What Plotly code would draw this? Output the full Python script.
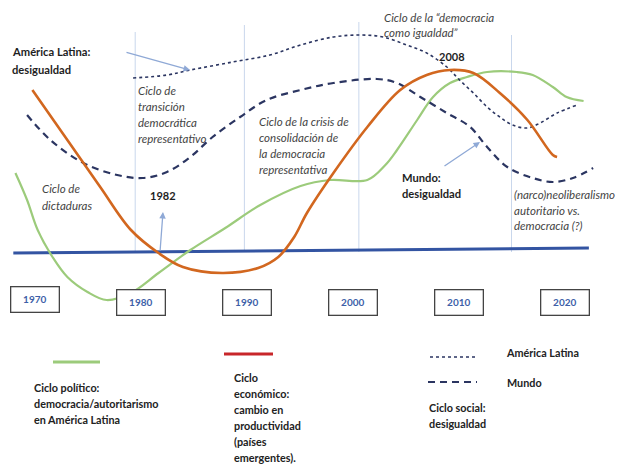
import plotly.graph_objects as go

# --- datos (años vs. nivel relativo, línea base = 0)
pol_years = [1968.2, 1969.3, 1970.3, 1971.7, 1973.1, 1975.0, 1976.8, 1979.1, 1981.7, 1984.7, 1988.0,
             1991.3, 1995.1, 1997.9, 2001.4, 2003.1, 2004.2, 2006.1, 2007.6, 2009.2, 2010.8, 2012.7,
             2015.5, 2017.0, 2018.9, 2020.2, 2021.8]
pol_vals = [79, 52, 22, -5, -25, -40, -48, -41, -21, 2, 24, 47, 66, 72, 72, 87, 102, 132, 155, 169,
            175, 180, 180, 177, 165, 155, 151]

eco_years = [1969.8, 1973.1, 1976.2, 1979.1, 1981.7, 1984.0, 1987.7, 1991.1, 1993.0, 1994.5, 1995.7,
             1998.2, 2001.4, 2004.5, 2007.0, 2009.2, 2011.4, 2013.9, 2016.5, 2018.9, 2019.3]
eco_vals = [162, 112, 65, 22, -1, -15, -21, -16, -5, 15, 39, 79, 125, 162, 177, 182, 179, 159, 132, 97, 95]

mundo_years = [1969.3, 1971.5, 1974.6, 1977.8, 1980.2, 1982.5, 1984.7, 1986.8, 1989.4, 1991.9, 1995.1,
               1998.2, 2002.3, 2004.2, 2006.4, 2008.9, 2011.1, 2012.7, 2014.6, 2017.0, 2018.9, 2020.8, 2022.7]
mundo_vals = [137, 112, 89, 77, 74, 80, 95, 115, 135, 152, 162, 169, 173, 169, 155, 139, 125, 105, 85,
              74, 70, 74, 84]

al_years = [1979.3, 1982.5, 1984.7, 1988.7, 1992.2, 1995.1, 1998.2, 2000.7, 2002.9, 2005.1, 2007.0,
            2008.9, 2010.1, 2011.4, 2012.7, 2013.9, 2015.1, 2016.5, 2017.7, 2019.3, 2021.2]
al_vals = [174, 177, 182, 190, 197, 207, 215, 217, 215, 207, 199, 185, 172, 159, 145, 135, 127, 124,
           129, 139, 147]

base_years = [1968.0, 2022.3]
base_vals = [-1, 4]

period_marks = [1979.5, 1989.8, 2000.6, 2015.0]
period_tops = [220, 227, 230, 217]

decades = [1970, 1980, 1990, 2000, 2010, 2020]

W, H = 617, 464
NAVY = "#2b3561"
FONT = "Lato"


def px(x):
    return x / W


def py(y):
    return 1 - y / H


fig = go.Figure()

# lineas verticales de periodos
for xm, top in zip(period_marks, period_tops):
    fig.add_trace(go.Scatter(x=[xm, xm], y=[top, 0], mode="lines",
                             line=dict(color="#c9d7ec", width=1), hoverinfo="skip"))

fig.add_trace(go.Scatter(x=base_years, y=base_vals, mode="lines",
                         line=dict(color="#3354a2", width=3), hoverinfo="skip"))
fig.add_trace(go.Scatter(x=pol_years, y=pol_vals, mode="lines", line_shape="spline",
                         line=dict(color="#9ccb7b", width=2.2), name="Ciclo político"))
fig.add_trace(go.Scatter(x=al_years, y=al_vals, mode="lines", line_shape="spline",
                         line=dict(color=NAVY, width=1.6, dash="dot"), name="América Latina"))
fig.add_trace(go.Scatter(x=mundo_years, y=mundo_vals, mode="lines", line_shape="spline",
                         line=dict(color=NAVY, width=2.2, dash="7px,5px"), name="Mundo"))
fig.add_trace(go.Scatter(x=eco_years, y=eco_vals, mode="lines", line_shape="spline",
                         line=dict(color="#d2671f", width=2.6), name="Ciclo económico"))

ann = []


def add_text(lines, x, y0, dy, size=10.5, style="", color="#333", anchor="left"):
    for i, t in enumerate(lines):
        if style == "b":
            t = f"<b>{t}</b>"
        elif style == "i":
            t = f"<i>{t}</i>"
        ann.append(dict(x=px(x), y=py(y0 + i * dy), xref="paper", yref="paper", text=t,
                        showarrow=False, xanchor=anchor, yanchor="middle",
                        font=dict(family=FONT, size=size, color=color)))


add_text(["América Latina:", "desigualdad"], 10, 52, 17, 11.2, "b", "#1e1e1e")
add_text(["Ciclo de", "transición", "democrática", "representativo"], 136, 90, 16, 11.5, "i", "#444")
add_text(["Ciclo de la crisis de", "consolidación de", "la democracia", "representativa"], 257, 121, 16.3,
         11.5, "i", "#444")
add_text(["Ciclo de", "dictaduras"], 40, 188, 17, 11.5, "i", "#444")
add_text(["1982"], 163, 195, 0, 11, "b", "#1e1e1e", "center")
add_text(["Ciclo de la “democracia", "como igualdad”"], 382, 17, 16, 11.5, "i", "#444")
add_text(["2008"], 452, 57, 0, 11, "b", "#1e1e1e", "center")
add_text(["Mundo:", "desigualdad"], 400, 177, 16.5, 11.2, "b", "#1e1e1e")
add_text(["(narco)neoliberalismo", "autoritario vs.", "democracia (?)"], 512, 194, 16, 11.5, "i", "#444")

# leyenda
add_text(["Ciclo político:", "democracia/autoritarismo", "en América Latina"], 32, 387, 16, 10.8, "b", "#222")
add_text(["Ciclo", "económico:", "cambio en", "productividad", "(países", "emergentes)."], 232, 377, 16,
         10.8, "b", "#222")
add_text(["América Latina"], 504, 352, 0, 10.8, "b", "#222")
add_text(["Mundo"], 505, 382, 0, 10.8, "b", "#222")
add_text(["Ciclo social:", "desigualdad"], 427, 407, 16.5, 10.8, "b", "#222")

# cajas de decadas
for d in decades:
    ann.append(dict(x=d, y=py(299.5 if d == 1970 else 302), xref="x", yref="paper",
                    text=f"<b>{d}</b>", showarrow=False, xanchor="center", yanchor="middle",
                    width=45, height=22, borderwidth=1.3, bordercolor="#444", borderpad=1,
                    bgcolor="white", font=dict(family=FONT, size=10, color="#3d5fa8")))

# flechas
arrows = [((125, 52), (190, 70)), ((160, 252), (163, 212)), ((443, 167), (480, 142))]
for (tx, ty), (hx, hy) in arrows:
    ann.append(dict(x=px(hx), y=py(hy), xref="paper", yref="paper", text="", showarrow=True,
                    ax=tx - hx, ay=ty - hy, arrowhead=2, arrowsize=1, arrowwidth=1.3,
                    arrowcolor="#8fa9d6", standoff=0))

shapes = [
    dict(type="line", xref="paper", yref="paper", x0=px(53), x1=px(100), y0=py(362), y1=py(362),
         line=dict(color="#9ccb7b", width=3)),
    dict(type="line", xref="paper", yref="paper", x0=px(224), x1=px(273), y0=py(354), y1=py(354),
         line=dict(color="#c8262a", width=3)),
    dict(type="line", xref="paper", yref="paper", x0=px(430), x1=px(478), y0=py(357), y1=py(357),
         line=dict(color=NAVY, width=1.5, dash="dot")),
    dict(type="line", xref="paper", yref="paper", x0=px(428), x1=px(477), y0=py(382), y1=py(382),
         line=dict(color=NAVY, width=2.2, dash="7px,5px")),
]

fig.update_layout(
    width=W, height=H,
    margin=dict(l=0, r=0, t=0, b=0),
    paper_bgcolor="white", plot_bgcolor="white",
    showlegend=False,
    xaxis=dict(range=[1966.745, 2024.953], visible=False),
    yaxis=dict(range=[-212, 252], visible=False),
    annotations=ann,
    shapes=shapes,
)

fig.write_html("out.html", config={"displayModeBar": False},
               post_script="document.body.style.margin = '0';")
